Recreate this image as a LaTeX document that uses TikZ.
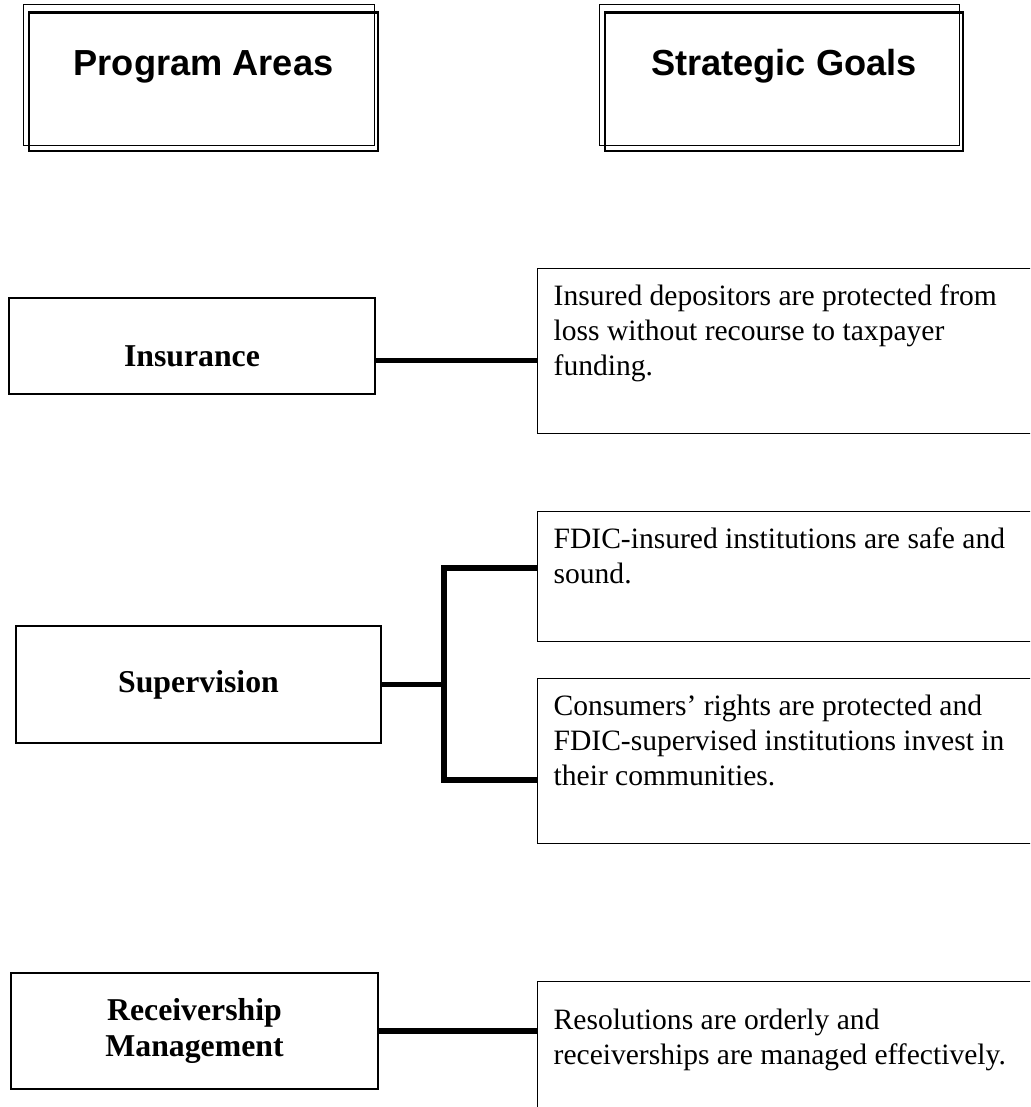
\documentclass[tikz,border=0pt]{standalone}
\usepackage{fontspec}
\setmainfont{Liberation Serif}
\newfontfamily\headfont{Liberation Sans}

\newcommand{\goaltext}[2]{\parbox[t][#1][t]{215pt}{\strut#2}}

\tikzset{
  header/.style={draw, line width=1.1pt, inner sep=0pt, minimum width=#1,
    minimum height=62.3pt, text height=28.35pt, text depth=33.95pt,
    font=\headfont\fontsize{16.3}{19}\selectfont\bfseries},
  headrim/.style={line width=0.45pt},
  area/.style={draw, line width=0.9pt, align=center,
    font=\fontsize{14.3}{16.6}\selectfont\bfseries},
  goal/.style={draw, line width=0.6pt, anchor=north west,
    inner xsep=7.2pt, inner ysep=5.6pt,
    font=\fontsize{13.3}{15.75}\selectfont},
  link/.style={line width=2.3pt}
}

\begin{document}
\begin{tikzpicture}[x=0.45pt, y=-0.45pt]
\useasboundingbox (0,0) rectangle (1030,1107);
\clip (0,0) rectangle (1030,1107);

% column heads
\node[header=157pt] (hdProg) at (203.5,81.5) {Program Areas};
\node[header=161.1pt] (hdGoal) at (784,81.5) {Strategic Goals};
\foreach \h in {hdProg,hdGoal}
  \draw[headrim] ([shift={(-4.6,-6.3)}]\h.north west) rectangle ([shift={(-4.6,-6.3)}]\h.south east);

% program areas
\node[area, minimum width=164.7pt, minimum height=43.2pt, inner ysep=0pt,
  text height=30.6pt, text depth=12.6pt] (ins) at (192,346) {Insurance};
\node[area, minimum width=164.25pt, minimum height=52.65pt] (sup) at (198.5,684.5) {Supervision};
\node[area, minimum width=165.15pt, minimum height=52.2pt] (rec) at (194.5,1031) {Receivership\\Management};

% strategic goals
\node[goal] (gIns) at (537,268) {\goaltext{63.05pt}{Insured depositors are protected from\\loss without recourse to taxpayer\\funding.}};
\node[goal] (gSafe) at (537,511) {\goaltext{47.3pt}{FDIC-insured institutions are safe and\\sound.}};
\node[goal] (gCons) at (537,678) {\goaltext{63.05pt}{Consumers’ rights are protected and\\FDIC-supervised institutions invest in\\their communities.}};
\node[goal, inner ysep=10.5pt] (gRes) at (537,981) {\goaltext{54pt}{Resolutions are orderly and\\receiverships are managed effectively.}};

% links
\coordinate (brTop) at (444,568);
\coordinate (brBot) at (444,780);
\draw[link] (ins.mid east) -- (ins.mid east -| gIns.west);
\draw[link] (sup.east) -- (sup.east -| brTop);
\draw[link] (gSafe.west |- brTop) -- (brTop) -- (brBot) -- (gCons.west |- brBot);
\draw[link] (rec.east) -- (rec.east -| gRes.west);
\end{tikzpicture}
\end{document}
